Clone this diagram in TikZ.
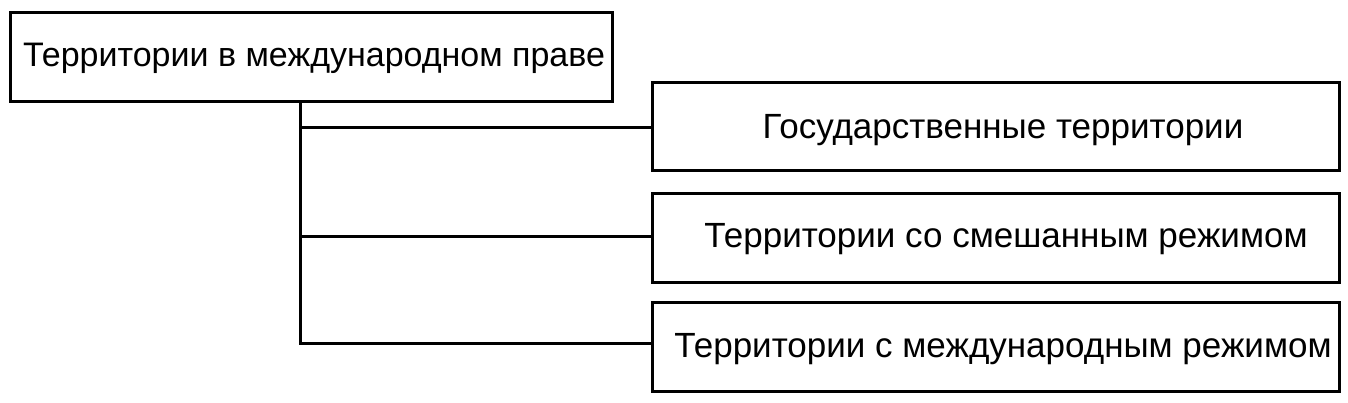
\documentclass[tikz,border=0pt]{standalone}
\usepackage{fontspec}
\setmainfont{Liberation Sans}
\begin{document}
\begin{tikzpicture}[x=1pt,y=-1pt,line width=3pt,
  lbl/.style={font=\fontsize{35}{40}\selectfont}]
\useasboundingbox (0,0) rectangle (1348,402);
\draw (10,12) rectangle (612,101);
\node[lbl,font=\fontsize{34}{40}\selectfont] (top) at (314,58) {Территории в международном праве};
\coordinate (ta) at (300,101);
\draw (652,82) rectangle (1339,170);
\node[lbl] (b1) at (1003,130) {Государственные территории};
\draw (652,193) rectangle (1339,282);
\node[lbl] (b2) at (1006,239) {Территории со смешанным режимом};
\draw (652,302) rectangle (1339,391);
\node[lbl] (b3) at (1003,349) {Территории с международным режимом};
\coordinate (l1) at (652,127);
\coordinate (l2) at (652,236);
\coordinate (l3) at (652,343);
\draw (ta) -- (300,343) -- (l3);
\draw (300,127) -- (l1);
\draw (300,236) -- (l2);
\end{tikzpicture}
\end{document}
